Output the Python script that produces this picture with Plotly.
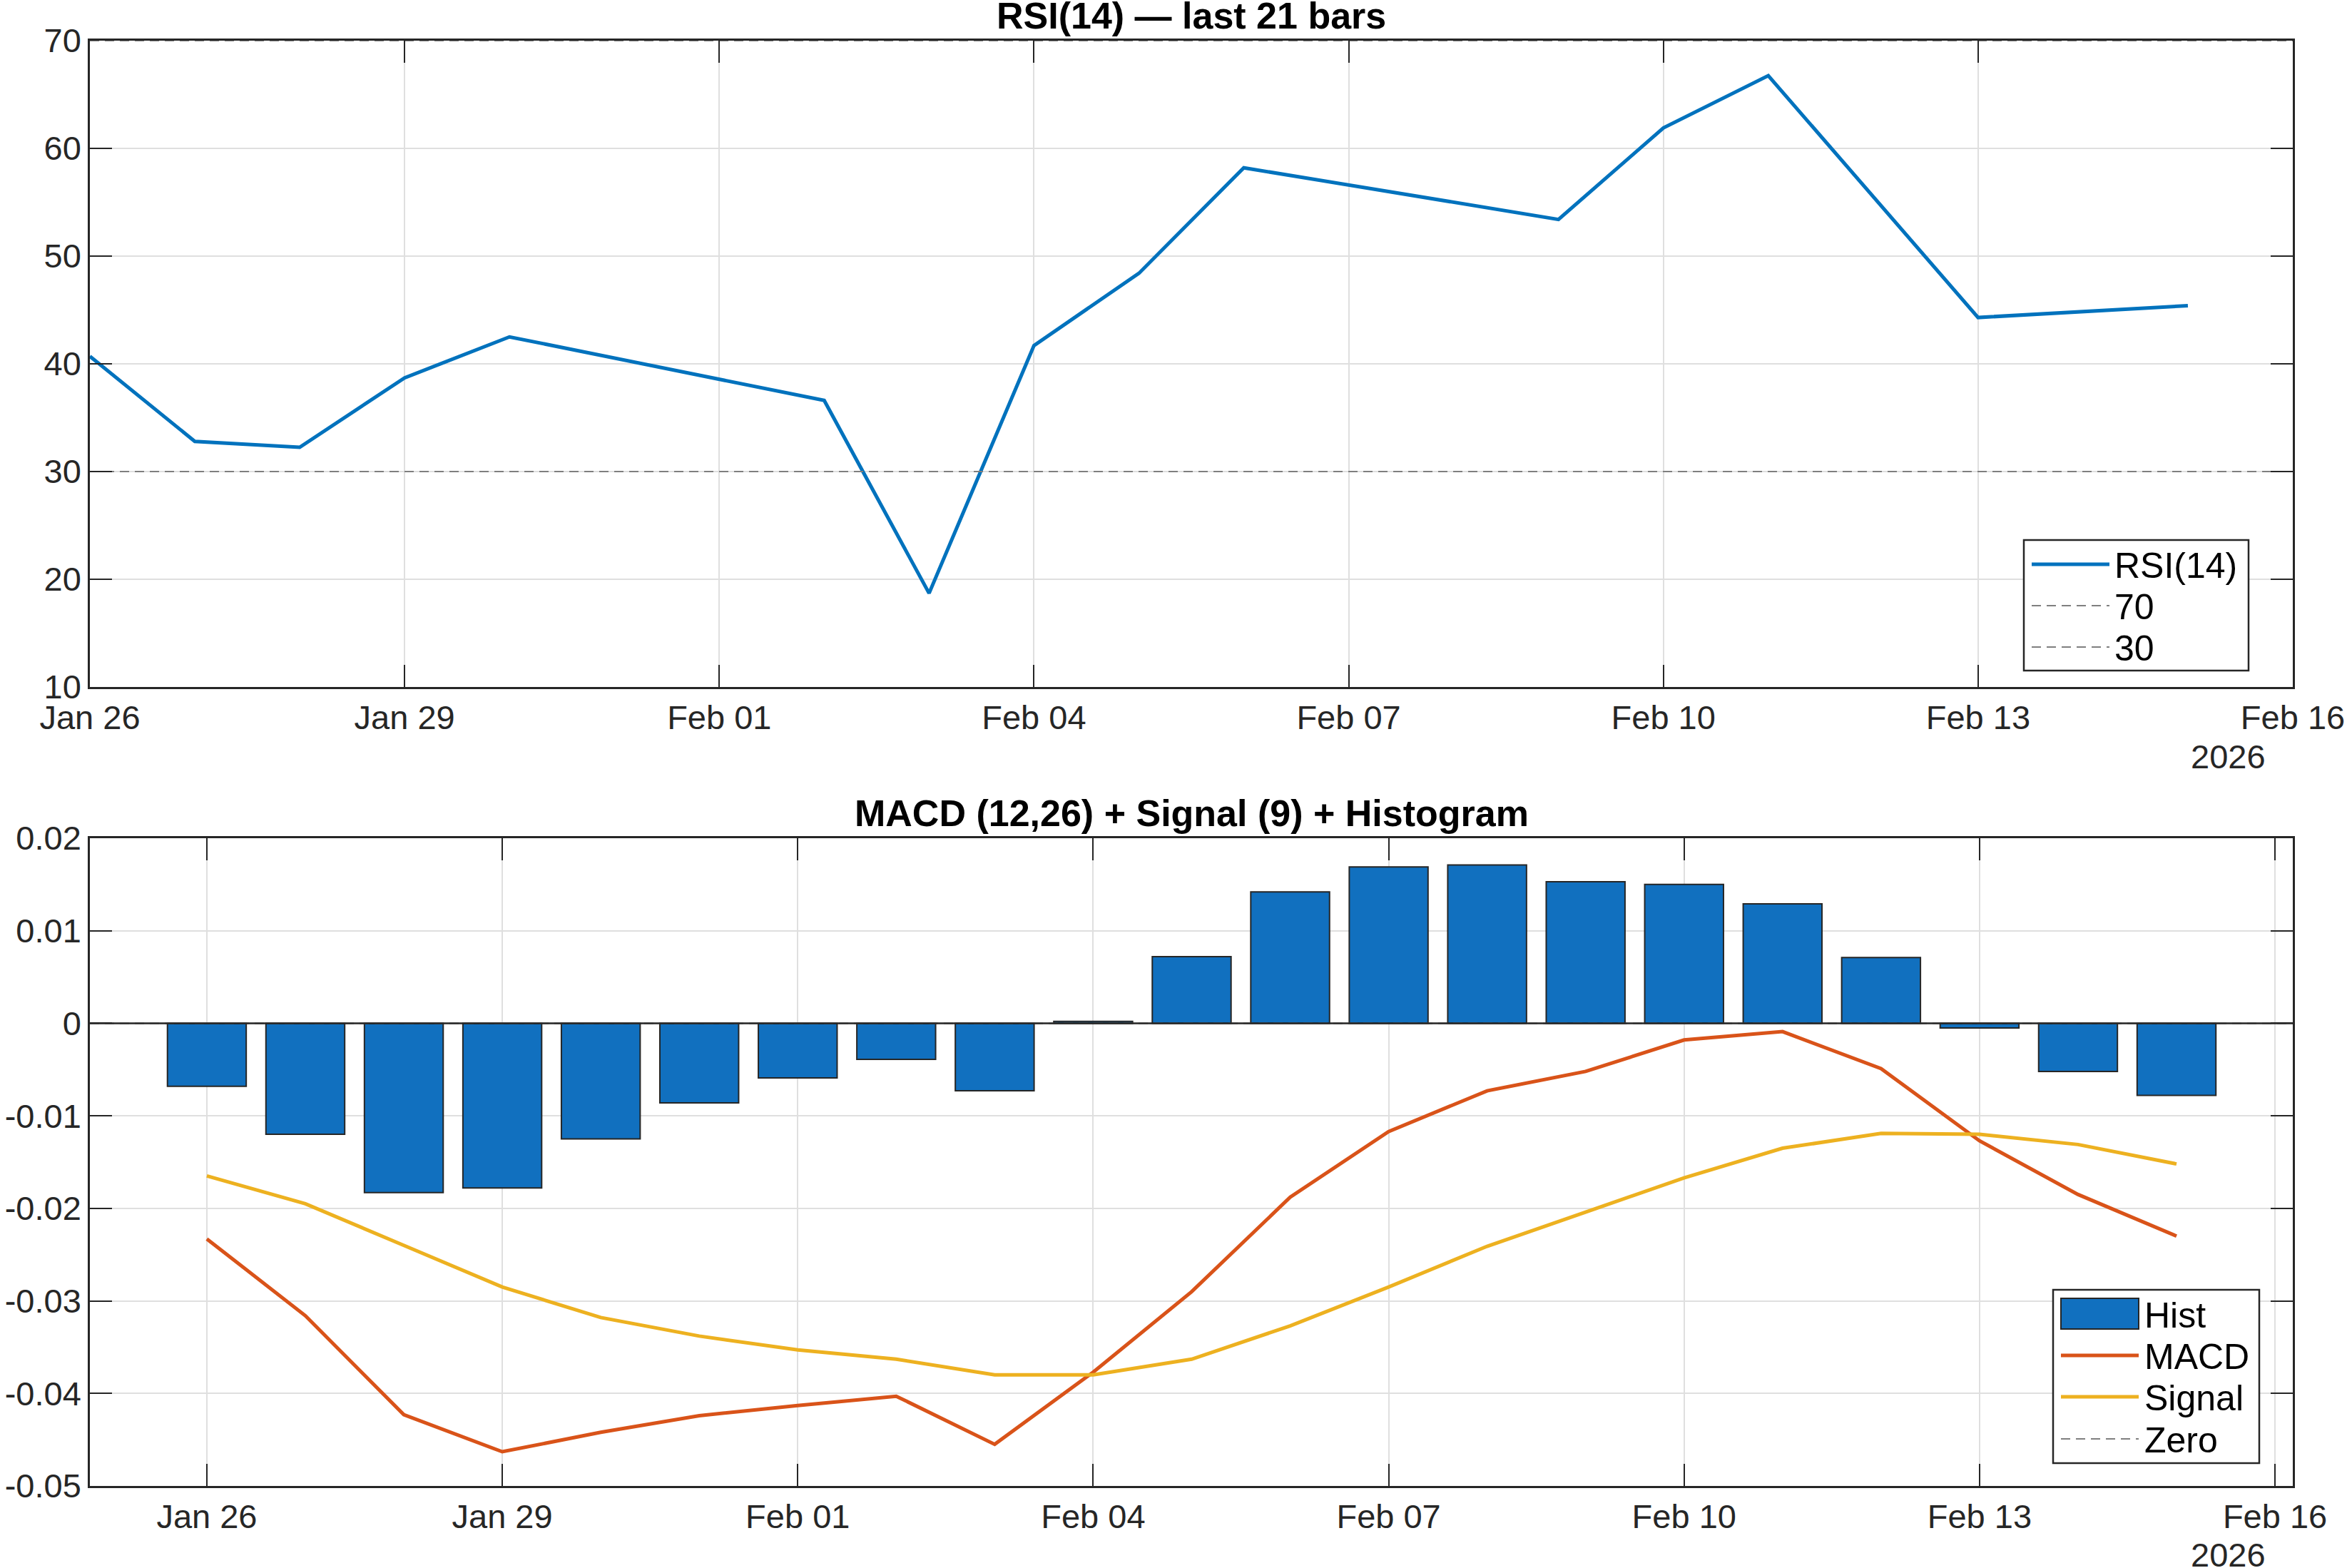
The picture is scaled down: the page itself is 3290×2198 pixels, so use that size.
import plotly.graph_objects as go

# ---------------- data ----------------
rsi_dates = ["2026-01-26", "2026-01-27", "2026-01-28", "2026-01-29", "2026-01-30",
             "2026-02-02", "2026-02-03", "2026-02-04", "2026-02-05", "2026-02-06",
             "2026-02-09", "2026-02-10", "2026-02-11", "2026-02-13", "2026-02-15"]
rsi_values = [40.7, 32.8, 32.25, 38.7, 42.5,
              36.6, 18.7, 41.7, 48.4, 58.2,
              53.4, 61.9, 66.75, 44.3, 45.4]

macd_dates = ["2026-01-26", "2026-01-27", "2026-01-28", "2026-01-29", "2026-01-30",
              "2026-01-31", "2026-02-01", "2026-02-02", "2026-02-03", "2026-02-04",
              "2026-02-05", "2026-02-06", "2026-02-07", "2026-02-08", "2026-02-09",
              "2026-02-10", "2026-02-11", "2026-02-12", "2026-02-13", "2026-02-14",
              "2026-02-15"]
hist_values = [-0.0068, -0.0120, -0.0183, -0.0178, -0.0125, -0.0086, -0.0059, -0.0039,
               -0.0073, 0.0002, 0.0072, 0.0142, 0.0169, 0.0171, 0.0153, 0.0150, 0.0129,
               0.0071, -0.0005, -0.0052, -0.0078]
macd_values = [-0.0233, -0.0316, -0.0423, -0.0463, -0.0442, -0.0424, -0.0413, -0.0403,
               -0.0455, -0.0377, -0.0290, -0.0188, -0.0117, -0.0073, -0.0052, -0.0018,
               -0.0009, -0.0049, -0.0127, -0.0185, -0.0230]
signal_values = [-0.0165, -0.0195, -0.0240, -0.0285, -0.0318, -0.0338, -0.0353, -0.0363,
                 -0.0380, -0.0380, -0.0363, -0.0327, -0.0285, -0.0241, -0.0204, -0.0167,
                 -0.0135, -0.0119, -0.0120, -0.0131, -0.0152]

rsi_levels = [70, 30]
zero_level = 0

x_tick_dates = ["2026-01-26", "2026-01-29", "2026-02-01", "2026-02-04",
                "2026-02-07", "2026-02-10", "2026-02-13", "2026-02-16"]
x_tick_labels = ["Jan 26", "Jan 29", "Feb 01", "Feb 04", "Feb 07", "Feb 10", "Feb 13", "Feb 16"]
year_label = "2026"

rsi_y_ticks = [10, 20, 30, 40, 50, 60, 70]
macd_y_ticks = [-0.05, -0.04, -0.03, -0.02, -0.01, 0, 0.01, 0.02]
macd_y_labels = ["-0.05", "-0.04", "-0.03", "-0.02", "-0.01", "0", "0.01", "0.02"]

top_x_range = ["2026-01-26", "2026-02-16"]
bot_x_range = ["2026-01-24 19:30", "2026-02-16 04:20"]

title_top = "RSI(14) — last 21 bars"
title_bot = "MACD (12,26) + Signal (9) + Histogram"

legend_top_names = ["RSI(14)", "70", "30"]
legend_bot_names = ["Hist", "MACD", "Signal", "Zero"]

# ---------------- style ----------------
W, H = 3290, 2198
FONT = "Liberation Sans, Arial, Helvetica, sans-serif"
AX = "#262626"
GRID = "#dfdfdf"
BLUE = "#0072BD"
BARBLUE = "#1170BF"
ORANGE = "#D95319"
YELLOW = "#EDB120"
GRAY = "#7f7f7f"
DASH = "13px,8px"
TICK_FS = 47
LEG_FS = 50

x0, x1 = 126 / W, 3214 / W
top_dom = [1 - 963 / H, 1 - 57 / H]
bot_dom = [1 - 2083 / H, 1 - 1175 / H]

fig = go.Figure()

# RSI panel
fig.add_trace(go.Scatter(x=rsi_dates, y=rsi_values, mode="lines", name=legend_top_names[0],
                         line=dict(color=BLUE, width=5), xaxis="x", yaxis="y"))
for lvl, nm in zip(rsi_levels, legend_top_names[1:]):
    fig.add_trace(go.Scatter(x=top_x_range, y=[lvl, lvl], mode="lines", name=nm,
                             line=dict(color=GRAY, width=2, dash=DASH),
                             xaxis="x", yaxis="y"))

# MACD panel
fig.add_trace(go.Bar(x=macd_dates, y=hist_values, name=legend_bot_names[0], width=0.8 * 86400000,
                     marker=dict(color=BARBLUE, line=dict(color=AX, width=2)),
                     xaxis="x2", yaxis="y2"))
fig.add_trace(go.Scatter(x=bot_x_range, y=[zero_level, zero_level], mode="lines",
                         name=legend_bot_names[3],
                         line=dict(color=GRAY, width=2, dash=DASH), xaxis="x2", yaxis="y2"))
fig.add_trace(go.Scatter(x=macd_dates, y=macd_values, mode="lines", name=legend_bot_names[1],
                         line=dict(color=ORANGE, width=5), xaxis="x2", yaxis="y2"))
fig.add_trace(go.Scatter(x=macd_dates, y=signal_values, mode="lines", name=legend_bot_names[2],
                         line=dict(color=YELLOW, width=5), xaxis="x2", yaxis="y2"))

axis_common = dict(
    showline=True, linecolor=AX, linewidth=2.5, mirror="ticks",
    ticks="inside", ticklen=31, tickwidth=2, tickcolor=AX,
    showgrid=True, gridcolor=GRID, gridwidth=2, zeroline=False, automargin=False,
    tickfont=dict(family=FONT, size=TICK_FS, color=AX),
)

fig.update_layout(
    width=W, height=H,
    margin=dict(l=0, r=0, t=0, b=0, autoexpand=False),
    paper_bgcolor="white", plot_bgcolor="white",
    font=dict(family=FONT, color=AX),
    showlegend=False,
    xaxis=dict(domain=[x0, x1], anchor="y", type="date", range=top_x_range,
               tickmode="array", tickvals=x_tick_dates, ticktext=x_tick_labels, **axis_common),
    yaxis=dict(domain=top_dom, anchor="x", range=[10, 70], tickmode="array",
               tickvals=rsi_y_ticks, **axis_common),
    xaxis2=dict(domain=[x0, x1], anchor="y2", type="date", range=bot_x_range,
                tickmode="array", tickvals=x_tick_dates, ticktext=x_tick_labels, **axis_common),
    yaxis2=dict(domain=bot_dom, anchor="x2", range=[-0.05, 0.02], tickmode="array",
                tickvals=macd_y_ticks, ticktext=macd_y_labels, **axis_common),
)

# bar baseline
fig.add_shape(type="line", xref="x2 domain", yref="y2", x0=0, x1=1, y0=0, y1=0,
              line=dict(color=AX, width=2.5), layer="above")

# titles
for txt, dom in [(title_top, top_dom), (title_bot, bot_dom)]:
    fig.add_annotation(text="<b>%s</b>" % txt, xref="paper", yref="paper",
                       x=(x0 + x1) / 2, y=dom[1], xanchor="center", yanchor="bottom",
                       yshift=4, showarrow=False,
                       font=dict(family=FONT, size=52, color="#000"))

# year labels
for yc in [1 - 1060 / H, 1 - 2179 / H]:
    fig.add_annotation(text=year_label, xref="paper", yref="paper", x=3178 / W, y=yc,
                       xanchor="right", yanchor="middle", showarrow=False,
                       font=dict(family=FONT, size=TICK_FS, color=AX))


# ---------- legends (drawn in pixel coordinates of the page) ----------
def px(x):
    return x / W


def py(y):
    return 1 - y / H


def legend_box(xa, ya, xb, yb):
    fig.add_shape(type="rect", xref="paper", yref="paper", x0=px(xa), x1=px(xb),
                  y0=py(ya), y1=py(yb), fillcolor="white",
                  line=dict(color=AX, width=2.5), layer="above")


def legend_text(txt, x, y):
    fig.add_annotation(text=txt, xref="paper", yref="paper", x=px(x), y=py(y),
                       xanchor="left", yanchor="middle", showarrow=False,
                       font=dict(family=FONT, size=LEG_FS, color="#000"))


def legend_line(xa, xb, y, color, width, dash=None):
    fig.add_shape(type="line", xref="paper", yref="paper", x0=px(xa), x1=px(xb),
                  y0=py(y), y1=py(y), line=dict(color=color, width=width, dash=dash),
                  layer="above")


# top legend
legend_box(2837, 757, 3152, 940)
top_rows = [791, 849, 907]
top_styles = [(BLUE, 5, None), (GRAY, 2, DASH), (GRAY, 2, DASH)]
for nm, yy, (c, w, d) in zip(legend_top_names, top_rows, top_styles):
    legend_line(2848, 2957, yy, c, w, d)
    legend_text(nm, 2962, yy + 2)

# bottom legend
legend_box(2878, 1808, 3167, 2051)
bot_rows = [1842, 1900, 1958, 2017]
fig.add_shape(type="rect", xref="paper", yref="paper", x0=px(2889), x1=px(2998),
              y0=py(1820), y1=py(1863), fillcolor=BARBLUE,
              line=dict(color=AX, width=2), layer="above")
legend_text(legend_bot_names[0], 3004, bot_rows[0] + 2)
bot_styles = [(ORANGE, 5, None), (YELLOW, 5, None), (GRAY, 2, DASH)]
for nm, yy, (c, w, d) in zip(legend_bot_names[1:], bot_rows[1:], bot_styles):
    legend_line(2889, 2998, yy, c, w, d)
    legend_text(nm, 3004, yy + 2)

fig.write_html("out.html")
